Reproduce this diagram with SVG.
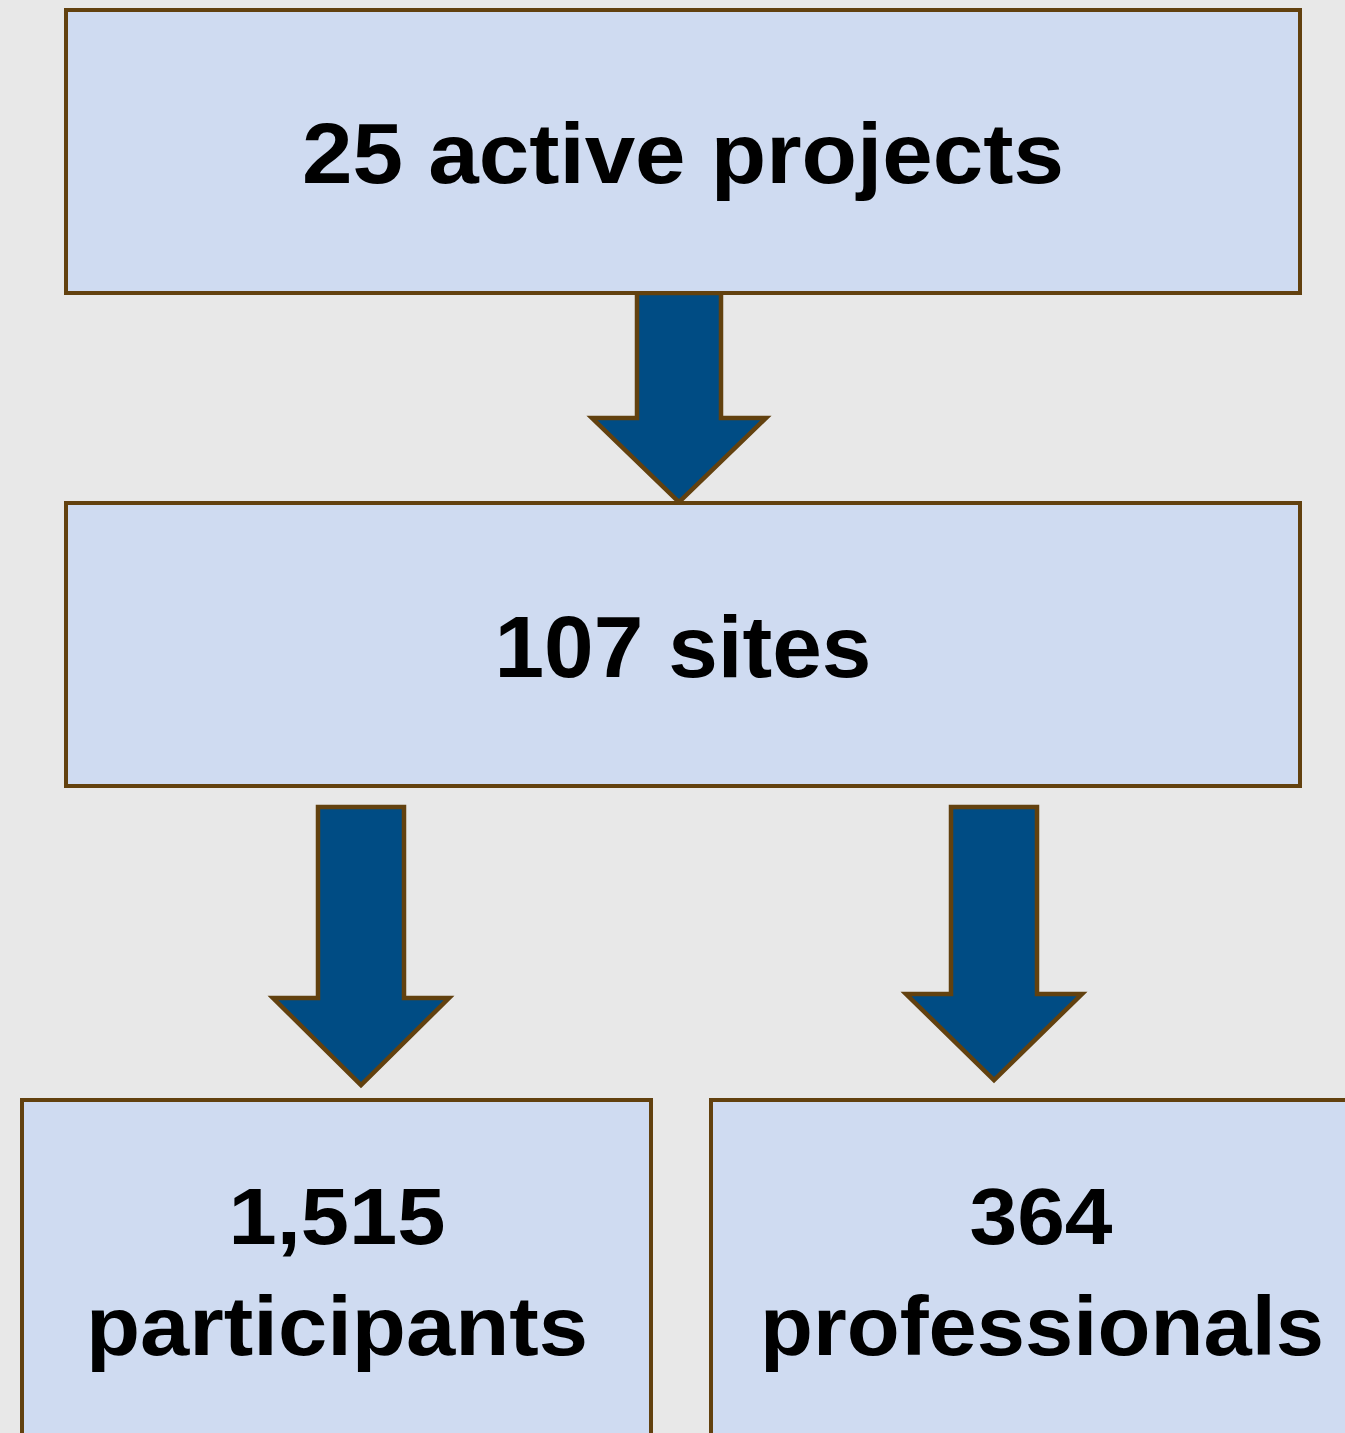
<svg xmlns="http://www.w3.org/2000/svg" width="1345" height="1433" viewBox="0 0 1345 1433">
<style>
.box{fill:#cfdbf1;stroke:#62410f;stroke-width:4}
.arr{fill:#004c84;stroke:#62410f;stroke-width:4.5;stroke-linejoin:miter}
.t{font-family:"Liberation Sans",Arial,sans-serif;font-weight:bold;fill:#000;text-anchor:middle}
</style>
<rect width="1345" height="1433" fill="#e8e8e8"/>
<g id="connectors">
<path class="arr" d="M637,293 L721,293 L721,418 L766,418 L679,502 L592,418 L637,418 Z"/>
<path class="arr" d="M318,807 L404,807 L404,998 L449,998 L361,1085 L273,998 L318,998 Z"/>
<path class="arr" d="M951,807 L1037,807 L1037,994 L1082,994 L994,1080 L906,994 L951,994 Z"/>
</g>
<g id="projects">
<rect class="box" x="66" y="10" width="1234" height="283"/>
<text class="t" x="683" y="183" font-size="86" textLength="762" lengthAdjust="spacingAndGlyphs">25 active projects</text>
</g>
<g id="sites">
<rect class="box" x="66" y="503" width="1234" height="283"/>
<text class="t" x="683" y="677" font-size="87" textLength="377" lengthAdjust="spacingAndGlyphs">107 sites</text>
</g>
<g id="participants">
<rect class="box" x="22" y="1100" width="629" height="360"/>
<text class="t" x="337" y="1244" font-size="80" textLength="217" lengthAdjust="spacingAndGlyphs">1,515</text>
<text class="t" x="337" y="1355" font-size="84" textLength="502" lengthAdjust="spacingAndGlyphs">participants</text>
</g>
<g id="professionals">
<rect class="box" x="711" y="1100" width="700" height="360"/>
<text class="t" x="1041" y="1244" font-size="80" textLength="143" lengthAdjust="spacingAndGlyphs">364</text>
<text class="t" x="1042" y="1355" font-size="84" textLength="564" lengthAdjust="spacingAndGlyphs">professionals</text>
</g>
</svg>
